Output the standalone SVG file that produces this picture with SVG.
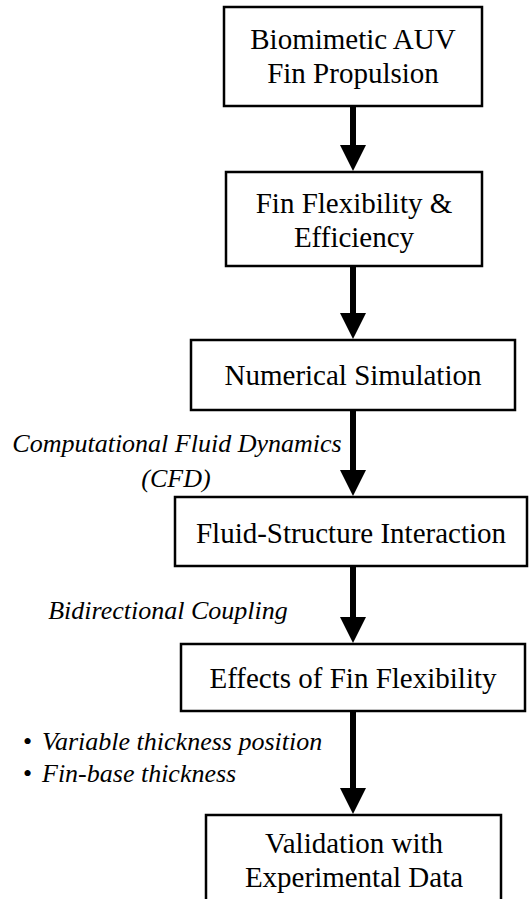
<svg xmlns="http://www.w3.org/2000/svg" width="529" height="899" viewBox="0 0 529 899">
<style>
.box{fill:#fff;stroke:#000;stroke-width:2.5}
.t{font-family:"Liberation Serif","Times New Roman",serif;font-size:29px;fill:#000;text-anchor:middle}
.lbl{font-family:"Liberation Serif","Times New Roman",serif;font-size:26px;font-style:italic;fill:#000}
.arr{stroke:#000;stroke-width:6;fill:none;marker-end:url(#ah)}
</style>
<defs>
<marker id="ah" markerUnits="userSpaceOnUse" markerWidth="27" markerHeight="27" refX="1" refY="13" orient="auto" viewBox="0 0 27 26">
<path d="M0,0 L26,13 L0,26 Z" fill="#000"/>
</marker>
</defs>
<rect width="529" height="899" fill="#fff"/>
<g id="connectors">
<line class="arr" x1="353" y1="106" x2="353" y2="146"/>
<line class="arr" x1="353" y1="266" x2="353" y2="314"/>
<line class="arr" x1="353" y1="410" x2="353" y2="471"/>
<line class="arr" x1="353" y1="566" x2="353" y2="618"/>
<line class="arr" x1="353" y1="711" x2="353" y2="789"/>
</g>
<g id="n1">
<rect class="box" x="224" y="7" width="258" height="99"/>
<text class="t" x="353" y="49">Biomimetic AUV</text>
<text class="t" x="353" y="83">Fin Propulsion</text>
</g>
<g id="n2">
<rect class="box" x="226" y="172" width="256" height="94"/>
<text class="t" x="354" y="213">Fin Flexibility &amp;</text>
<text class="t" x="354" y="247">Efficiency</text>
</g>
<g id="n3">
<rect class="box" x="191" y="340" width="324" height="70"/>
<text class="t" x="353" y="385">Numerical Simulation</text>
</g>
<g id="n4">
<rect class="box" x="175" y="497" width="352" height="69"/>
<text class="t" x="351" y="543">Fluid-Structure Interaction</text>
</g>
<g id="n5">
<rect class="box" x="181" y="644" width="344" height="67"/>
<text class="t" x="353" y="688">Effects of Fin Flexibility</text>
</g>
<g id="n6">
<rect class="box" x="206" y="815" width="295" height="100"/>
<text class="t" x="354" y="853">Validation with</text>
<text class="t" x="354" y="887">Experimental Data</text>
</g>
<g id="labels">
<text class="lbl" x="177" y="452" text-anchor="middle">Computational Fluid Dynamics</text>
<text class="lbl" x="176" y="487" text-anchor="middle">(CFD)</text>
<text class="lbl" x="168" y="619" text-anchor="middle">Bidirectional Coupling</text>
<text class="lbl" y="750"><tspan x="23" font-style="normal">•</tspan><tspan x="42">Variable thickness position</tspan></text>
<text class="lbl" y="782"><tspan x="23" font-style="normal">•</tspan><tspan x="42">Fin-base thickness</tspan></text>
</g>
</svg>
